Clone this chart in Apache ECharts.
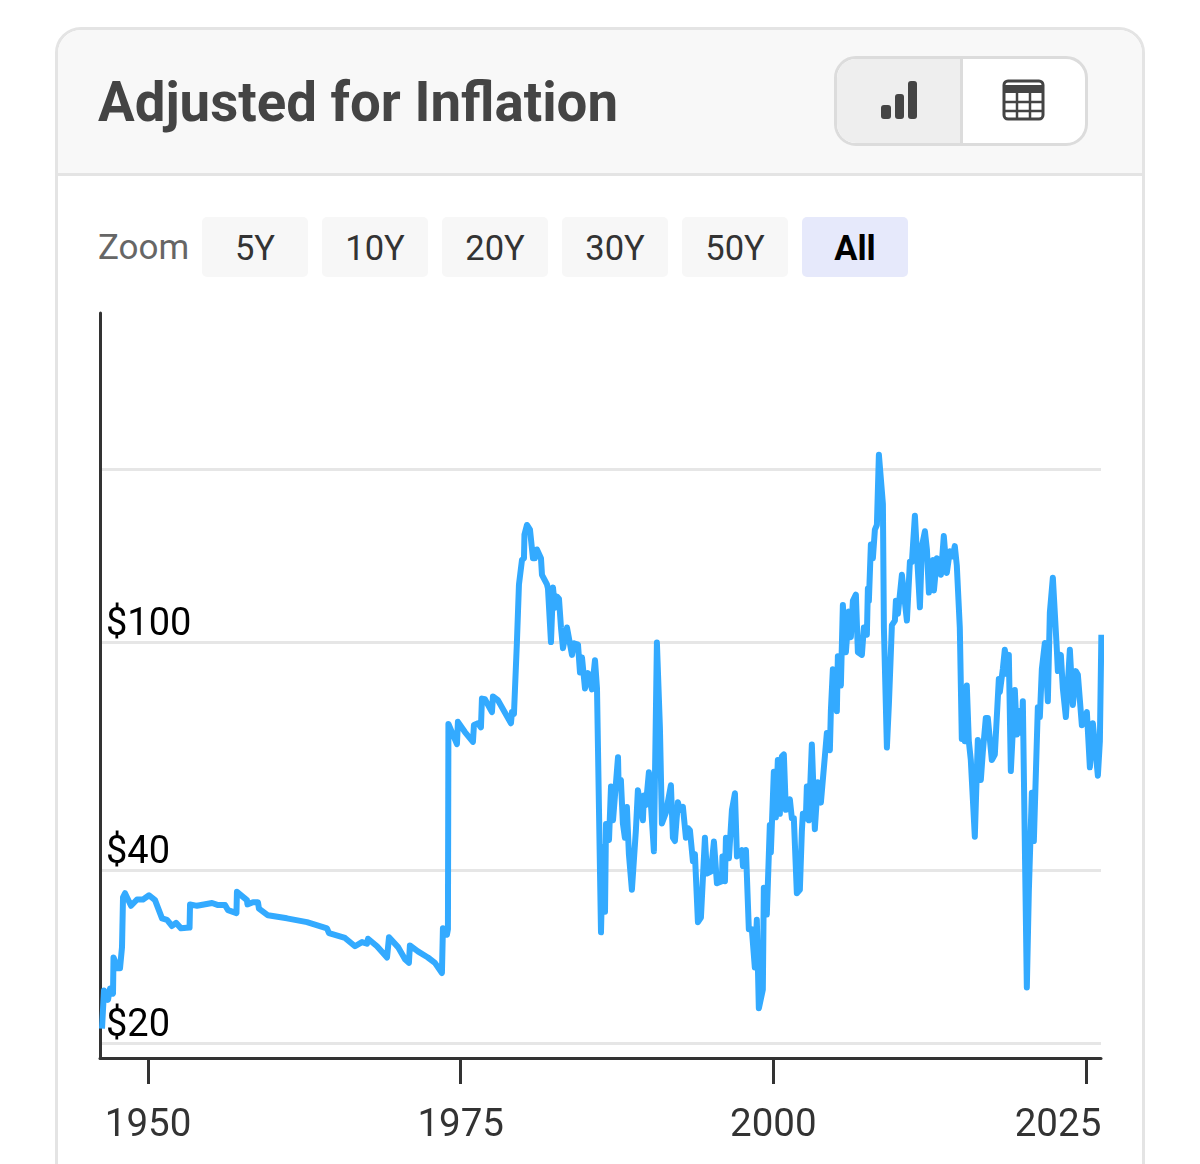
<!DOCTYPE html>
<html lang="en">
<head>
<meta charset="UTF-8">
<title>Adjusted for Inflation</title>
<script type="text/javascript" src="https://cdn.jsdelivr.net/npm/echarts@6/dist/echarts.min.js"></script>
<style>
    html, body { margin: 0; padding: 0; background: #fff; overflow: hidden; }
    body { width: 1200px; height: 1164px; position: relative; font-family: Roboto, sans-serif; }
    #card { position: absolute; left: 55px; top: 27px; width: 1084px; height: 1200px; border: 3px solid #e4e4e4; border-radius: 26px; overflow: hidden; }
    #head { position: absolute; left: 0; top: 0; width: 100%; height: 143px; background: #f8f8f8; border-bottom: 3px solid #e4e4e4; }
    #title { position: absolute; left: 98px; top: 70px; font-size: 54.6px; line-height: 64px; font-weight: 700; color: #444; white-space: nowrap; }
    #toggle { position: absolute; left: 834px; top: 56px; width: 248px; height: 84px; border: 3px solid #dcdcdc; border-radius: 22px; overflow: hidden; background: #fff; }
    #toggle .on { position: absolute; left: 0; top: 0; width: 123px; height: 100%; background: #eee; border-right: 3px solid #dcdcdc; }
    #toggle svg { position: absolute; top: 22px; }
    #zoom { position: absolute; left: 98px; top: 228px; font-size: 35px; line-height: 40px; color: #666; }
    .btn { position: absolute; top: 217px; width: 106px; height: 60px; line-height: 62px; text-align: center; background: #f7f7f7; border-radius: 5px; font-size: 34.5px; color: #333; }
    .btn.active { background: #e6e9fb; color: #000; font-weight: 700; }
    #main { position: absolute; left: 0; top: 0; width: 1200px; height: 1164px; }
</style>
</head>
<body>
<div id="card"><div id="head"></div></div>
<div id="title">Adjusted for Inflation</div>
<div id="toggle">
    <div class="on"></div>
    <svg style="left:43px" width="40" height="40" viewBox="0 0 40 40" fill="#444">
        <rect x="1" y="24" width="10" height="14" rx="3"/><rect x="15" y="13" width="9" height="25" rx="3"/><rect x="28" y="0" width="9" height="38" rx="3"/>
    </svg>
    <svg style="left:164px;top:20px" width="44" height="44" viewBox="0 0 44 44">
        <rect x="3" y="2" width="39" height="38" rx="4" fill="#fff" stroke="#444" stroke-width="3"/>
        <path d="M3 6 h39 v8 h-39 z" fill="#444"/>
        <path d="M3 23 h39 M3 32 h39 M16 14 v26 M29 14 v26" stroke="#444" stroke-width="2.5" fill="none"/>
    </svg>
</div>
<div id="zoom">Zoom</div>
<div class="btn" style="left:202px">5Y</div>
<div class="btn" style="left:322px">10Y</div>
<div class="btn" style="left:442px">20Y</div>
<div class="btn" style="left:562px">30Y</div>
<div class="btn" style="left:682px">50Y</div>
<div class="btn active" style="left:802px">All</div>
<div id="main"></div>

<script type="text/javascript">
    // values, year and price go pair by pair
    var years = [
        1946.32,1946.48,1946.8,1946.96,1947.2,1947.24,1947.36,1947.6,1947.76,1947.92,1948,1948.16,1948.64,1949.12,1949.6,1950.08,1950.56,1951.12,1951.52,1951.92,
        1952.24,1952.64,1953.32,1953.36,1953.92,1955.12,1955.6,1956.16,1956.4,1957.07,1957.11,1957.91,1957.95,1958.39,1958.79,1958.87,1959.59,1961.11,1962.71,1964.31,
        1964.47,1965.75,1966.55,1967.11,1967.51,1967.59,1968.31,1969.11,1969.27,1969.99,1970.55,1970.86,1970.94,1971.58,1972.38,1972.94,1973.5,1973.58,1973.9,1973.98,
        1974.02,1974.7,1974.78,1975.34,1975.98,1976.06,1976.38,1976.62,1976.7,1976.94,1977.5,1977.58,1977.98,1979.02,1979.1,1979.26,1979.5,1979.66,1979.9,1980.06,
        1980.1,1980.3,1980.54,1980.78,1980.94,1981.1,1981.42,1981.5,1981.9,1981.98,1982.22,1982.38,1982.54,1982.7,1982.86,1983.02,1983.18,1983.5,1983.9,1984.06,
        1984.38,1984.54,1984.7,1984.94,1985.18,1985.5,1985.74,1985.9,1986.22,1986.38,1986.54,1986.62,1986.86,1987.02,1987.18,1987.58,1987.62,1987.81,1987.97,1988.13,
        1988.29,1988.45,1988.69,1989.01,1989.17,1989.57,1989.65,1989.81,1990.05,1990.45,1990.69,1990.93,1991.09,1991.41,1991.81,1991.97,1992.13,1992.37,1992.53,1992.77,
        1993.01,1993.17,1993.33,1993.57,1993.73,1993.97,1994.21,1994.53,1994.69,1995.01,1995.25,1995.49,1995.89,1995.93,1996.13,1996.21,1996.45,1996.69,1996.93,1997.09,
        1997.49,1997.57,1997.81,1998.04,1998.28,1998.52,1998.68,1998.84,1999.16,1999.24,1999.48,1999.72,1999.8,2000.04,2000.2,2000.36,2000.52,2000.68,2000.84,2001,
        2001.32,2001.48,2001.64,2001.88,2002.12,2002.28,2002.36,2002.6,2002.68,2002.84,2003.08,2003.32,2003.56,2003.8,2004.12,2004.28,2004.52,2004.6,2004.76,2005.08,
        2005.16,2005.4,2005.56,2005.8,2006.04,2006.2,2006.36,2006.6,2006.76,2007.08,2007.24,2007.48,2007.56,2007.64,2007.8,2007.96,2008.12,2008.28,2008.44,2008.76,
        2008.84,2009.08,2009.24,2009.48,2009.72,2009.8,2009.96,2010.28,2010.68,2010.92,2011.08,2011.32,2011.48,2011.72,2011.88,2012.12,2012.28,2012.44,2012.76,2012.84,
        2013.08,2013.4,2013.63,2013.87,2014.11,2014.35,2014.51,2014.67,2014.91,2015.07,2015.15,2015.31,2015.47,2015.63,2015.79,2016.11,2016.35,2016.59,2016.75,2016.99,
        2017.15,2017.47,2017.71,2018.03,2018.11,2018.35,2018.51,2018.67,2018.83,2018.99,2019.31,2019.47,2019.71,2019.87,2019.95,2020.27,2020.43,2020.67,2020.83,2021.15,
        2021.31,2021.47,2021.71,2021.95,2022.11,2022.35,2022.67,2022.75,2022.99,2023.15,2023.39,2023.71,2023.95,2024.19,2024.35,2024.67,2025.07,2025.31,2025.55,2025.95,
        2026.11,2026.23
    ];
    var prices = [
        21.2,24.7,23.8,24.9,24.4,28.2,28.2,27,27,29.4,35.9,36.5,34.7,35.6,35.6,36.2,35.5,33,32.8,32,
        32.4,31.7,31.8,34.9,34.7,35.1,34.8,34.8,34.1,33.7,36.7,35.5,34.9,35.2,35.2,34.3,33.4,33,32.5,31.7,
        31.1,30.5,29.5,30,29.8,30.4,29.5,28.2,30.6,29.4,28,27.6,29.6,28.9,28.2,27.6,26.5,31.7,30.9,31.6,
        72,66.4,72.6,69.7,67,71.7,72.2,71,79.7,79.5,75.5,80.4,79.2,72.2,75.5,75,100.4,126,139,140,
        154,160,157,140,140,145,140,131,126,124,100,124.5,114.8,120,119,106,97.6,106,95,99.5,
        99,88.5,94,83,88.3,82.7,93,83,31.2,44,33.9,48.2,45.2,56,48.9,63,57.3,57.5,48.3,45.6,
        51.6,42.7,37,47,55.2,48.9,54,52,59.3,43.2,99.8,71,48.3,50.4,56.3,45.6,45,52.6,51,51.6,
        45.6,47.4,47,41.5,42.7,32.5,33.1,45.6,39.5,39.8,44.9,38,38.3,42.3,38.3,45.6,42,51,54.5,42.3,
        43.4,40.7,43.4,31.6,31.6,27.1,32.8,23,24.8,37.3,33.5,48,43,59.4,49.5,62.3,50.2,63.2,63.7,51,
        53.2,49.3,49.3,36.5,37,46.8,50.2,49.3,56,48.9,66.3,47.2,57,52.5,63.2,69.4,64.8,75.8,89.7,75.8,
        94.5,84,116,96,113,102,118,121,96,95,106,103,124,118,148,140,157,160,212,174,
        106,65.5,78,107,109,118,112,131,109,138,138,166,143,115,147,156,145,122,139,123,
        140,131,153,132,144,141,147,136,106,67.8,83,67.2,84,67.2,62.3,45.8,67.5,57.5,64.3,73.7,
        73.7,62.3,63.7,86.2,81.8,89.7,97,88,95,59.6,82.5,69,75.8,69.4,78.9,25,36.8,54.6,45,77,
        74,89.7,99.6,78.9,112.6,129.5,96.9,89,95,83,74,97,77.7,89,87.7,71.6,75.5,60.5,72.2,58.5,
        67.2,103
    ];
    var yearTicks = [1950, 1975, 2000, 2025];
    var priceLines = [20, 40, 100, 200];
    var priceLabels = [20, 40, 100];

    var myChart = echarts.init(document.getElementById('main'));
    var option = {
        animation: false,
        textStyle: { fontFamily: 'Roboto' },
        grid: { left: 100, top: 313, width: 1001, height: 745 },
        xAxis: {
            type: 'value',
            min: 1946.16,
            max: 2026.2,
            splitLine: { show: false },
            axisLine: { lineStyle: { color: '#333', width: 3 } },
            axisTick: { customValues: yearTicks, length: 26, lineStyle: { color: '#333', width: 3 } },
            axisLabel: {
                customValues: yearTicks,
                fontSize: 38.5,
                color: '#333',
                margin: 49,
                // last label is pushed left so it stays inside the card
                formatter: function (v) { return v === 2025 ? '{last|2025}' : String(v); },
                rich: { last: { fontSize: 38.5, color: '#333', padding: [0, 56, 0, 0] } }
            }
        },
        yAxis: {
            type: 'log',
            logBase: 2,
            min: 18.84,
            max: 374.6,
            axisLine: { show: true, lineStyle: { color: '#333', width: 3 } },
            axisTick: { show: false, customValues: priceLines },
            splitLine: { show: true, lineStyle: { color: '#e6e6e6', width: 3 } },
            axisLabel: {
                customValues: priceLabels,
                inside: true,
                margin: 6,
                fontSize: 38,
                lineHeight: 34,
                color: '#000',
                verticalAlign: 'bottom',
                formatter: '${value}'
            }
        },
        series: [{
            type: 'line',
            showSymbol: false,
            data: years.map(function (y, i) { return [y, prices[i]]; }),
            lineStyle: { color: '#33aaff', width: 6, join: 'round' }
        }]
    };
    myChart.setOption(option);
</script>
</body>
</html>
